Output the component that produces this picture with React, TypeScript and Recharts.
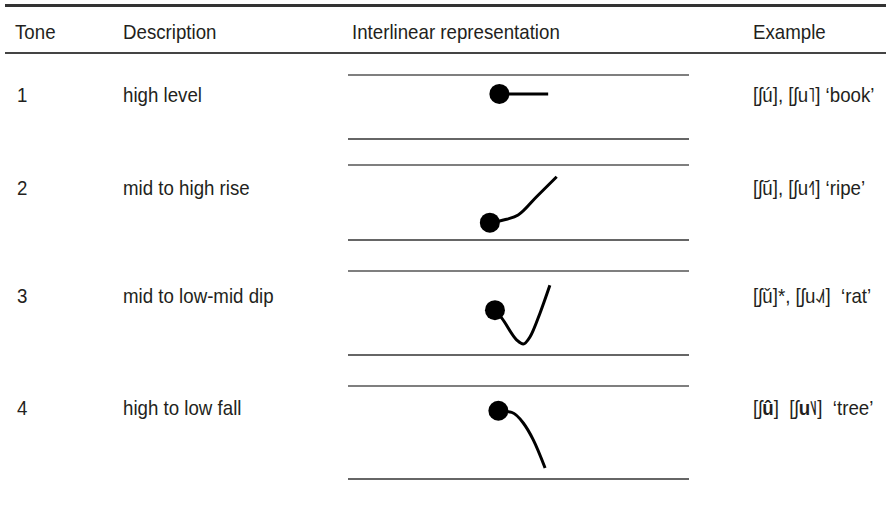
import React from 'react';
import { LineChart, Line, XAxis, YAxis, ReferenceLine } from 'recharts';

const headers = ['Tone', 'Description', 'Interlinear representation', 'Example'];
const toneNumbers = ['1', '2', '3', '4'];
const descriptions = ['high level', 'mid to high rise', 'mid to low-mid dip', 'high to low fall'];

// example transcriptions, split so the bold parts can be marked
const examples = [
    [{ t: '[ʃú], [ʃu˥] ‘book’' }],
    [{ t: '[ʃu᷄], [ʃu˧˥] ‘ripe’' }],
    [{ t: '[ʃǔ]*, [ʃu˨˩˦]  ‘rat’' }],
    [{ t: '[ʃ' }, { t: 'û', b: true }, { t: ']  [ʃ' }, { t: 'u', b: true }, { t: '˥˩]  ‘tree’' }],
];

// pitch contours: x = position across the interline box (0-1), pitch = height between the lines (0 low, 1 high)
const highLevel = [
    { x: 0.444, pitch: 0.705 },
    { x: 0.587, pitch: 0.705 },
];
const midHighRise = [
    { x: 0.416, pitch: 0.231 },
    { x: 0.465, pitch: 0.276 },
    { x: 0.499, pitch: 0.333 },
    { x: 0.553, pitch: 0.577 },
    { x: 0.612, pitch: 0.844 },
];
const midLowDip = [
    { x: 0.431, pitch: 0.534 },
    { x: 0.451, pitch: 0.439 },
    { x: 0.495, pitch: 0.178 },
    { x: 0.514, pitch: 0.13 },
    { x: 0.534, pitch: 0.217 },
    { x: 0.563, pitch: 0.498 },
    { x: 0.592, pitch: 0.83 },
];
const highLowFall = [
    { x: 0.441, pitch: 0.734 },
    { x: 0.48, pitch: 0.716 },
    { x: 0.514, pitch: 0.602 },
    { x: 0.543, pitch: 0.423 },
    { x: 0.578, pitch: 0.119 },
];
const contours = [highLevel, midHighRise, midLowDip, highLowFall];

// layout of the table rows (pixels)
const rowBoxes = [
    { top: 75, bottom: 139, text: 94 },
    { top: 165, bottom: 240, text: 187 },
    { top: 271, bottom: 355, text: 295 },
    { top: 386, bottom: 479, text: 407 },
];
const colX = [15, 123, 352, 753];
const PAD = 12;
// no condensed face installed, so squeeze Liberation Sans a bit
const FONT = "'Liberation Sans', Arial, sans-serif";

const StartDot: React.FC<any> = (props) => {
    const { cx, cy, index } = props;
    if (index !== 0) return <g key={`d-${index}`} />;
    return <circle key={`d-${index}`} cx={cx} cy={cy} r={10} fill="#000" />;
};

const TextCell: React.FC<{ x: number; y: number; children: React.ReactNode }> = ({ x, y, children }) => (
    <div
        style={{
            position: 'absolute',
            left: x,
            top: y,
            transform: 'translateY(-50%) scaleX(0.89)',
            transformOrigin: 'left center',
            lineHeight: 1,
            whiteSpace: 'pre',
        }}
    >
        {children}
    </div>
);

const ContourChart: React.FC<{ data: Array<{ x: number; pitch: number }>; top: number; bottom: number }> = ({
    data,
    top,
    bottom,
}) => (
    <div style={{ position: 'absolute', left: 348, top: top - PAD }}>
        <LineChart
            width={341}
            height={bottom - top + PAD * 2}
            data={data}
            margin={{ top: PAD, right: 0, bottom: PAD, left: 0 }}
        >
            <XAxis type="number" dataKey="x" domain={[0, 1]} hide />
            <YAxis type="number" domain={[0, 1]} hide />
            <ReferenceLine y={1} stroke="#555" strokeWidth={1.5} />
            <ReferenceLine y={0} stroke="#333" strokeWidth={1.5} />
            <Line
                type="monotone"
                dataKey="pitch"
                stroke="#000"
                strokeWidth={3}
                dot={<StartDot />}
                activeDot={false}
                isAnimationActive={false}
            />
        </LineChart>
    </div>
);

export default function App() {
    return (
        <div
            style={{
                position: 'absolute',
                left: 0,
                top: 0,
                width: 886,
                height: 508,
                background: '#fff',
                fontFamily: FONT,
                fontSize: 21,
                color: '#231f20',
            }}
        >
            <div style={{ position: 'absolute', left: 5, top: 4, width: 881, height: 3, background: '#333' }} />
            {headers.map((h, i) => (
                <TextCell key={h} x={colX[i]} y={31}>
                    {h}
                </TextCell>
            ))}
            <div style={{ position: 'absolute', left: 5, top: 52, width: 881, height: 2, background: '#444' }} />

            {rowBoxes.map((row, i) => (
                <React.Fragment key={i}>
                    <TextCell x={colX[0] + 2} y={row.text}>
                        {toneNumbers[i]}
                    </TextCell>
                    <TextCell x={colX[1]} y={row.text}>
                        {descriptions[i]}
                    </TextCell>
                    <ContourChart data={contours[i]} top={row.top} bottom={row.bottom} />
                    <TextCell x={colX[3]} y={row.text}>
                        {examples[i].map((seg, j) => (
                            <span key={j} style={{ fontWeight: seg.b ? 'bold' : 'normal' }}>
                                {seg.t}
                            </span>
                        ))}
                    </TextCell>
                </React.Fragment>
            ))}
        </div>
    );
}
